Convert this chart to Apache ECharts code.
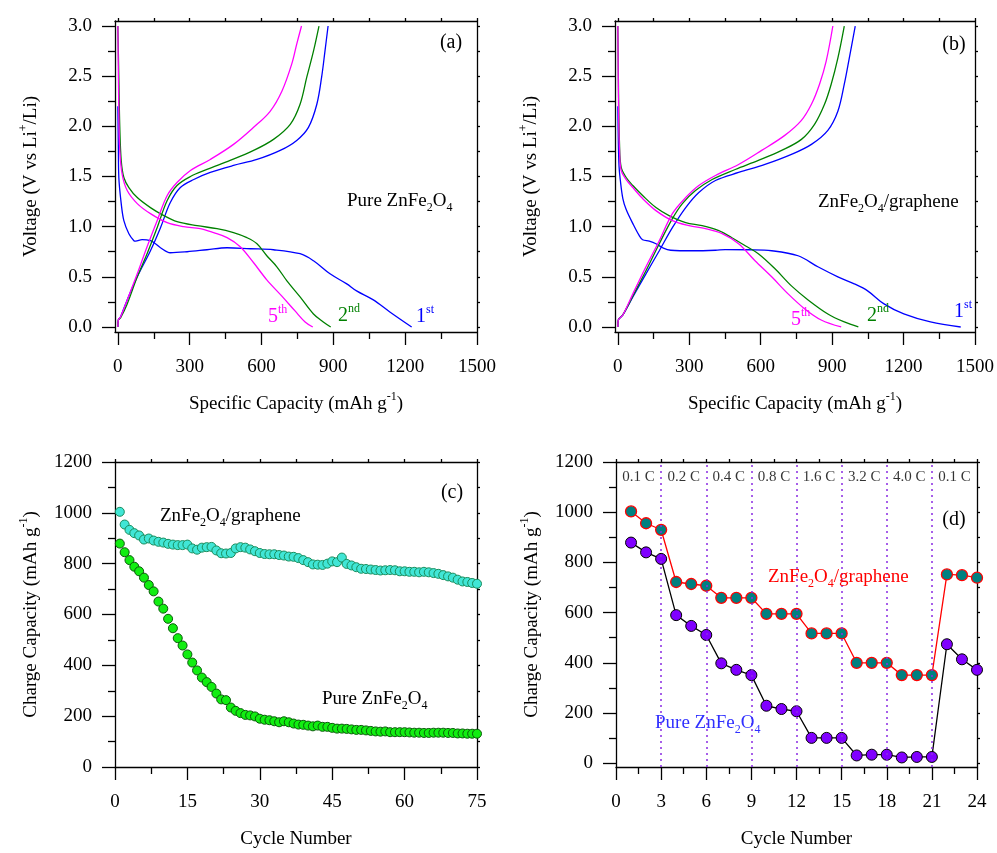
<!DOCTYPE html>
<html><head><meta charset="utf-8">
<script src="https://cdn.jsdelivr.net/npm/echarts@6/dist/echarts.min.js"></script>
<style>html,body{margin:0;padding:0;background:#fff}#c{width:997px;height:853px}</style>
</head><body><div id="c"></div>
<script>
// ---------- Tick values ----------
const capTicks = [0, 300, 600, 900, 1200, 1500];
const capMinor = [150, 450, 750, 1050, 1350];
const voltTicks = [0, 0.5, 1.0, 1.5, 2.0, 2.5, 3.0];
const voltMinor = [0.25, 0.75, 1.25, 1.75, 2.25, 2.75];
const cycTicksC = [0, 15, 30, 45, 60, 75];
const cycMinorC = [7.5, 22.5, 37.5, 52.5, 67.5];
const chgTicks = [0, 200, 400, 600, 800, 1000, 1200];
const chgMinor = [100, 300, 500, 700, 900, 1100];
const cycTicksD = [0, 3, 6, 9, 12, 15, 18, 21, 24];
const cycMinorD = [1.5, 4.5, 7.5, 10.5, 13.5, 16.5, 19.5, 22.5];

// ---------- Panel (a): Pure ZnFe2O4, [capacity, voltage] ----------
const a1Dis = [[0,2.2],[2,1.8],[4,1.49],[14,1.23],[25,1.06],[46,0.93],[67,0.86],[74,0.855],[101,0.87],[136,0.86],[157,0.83],[178,0.79],[219,0.74],[289,0.75],[372,0.77],[456,0.79],[553,0.78],[650,0.77],[761,0.73],[817,0.66],[886,0.53],[956,0.43],[997,0.36],[1067,0.27],[1136,0.15],[1227,0.0]];
const a1Chg = [[0,0],[2,0.07],[11,0.1],[39,0.27],[81,0.5],[136,0.76],[178,0.99],[219,1.24],[261,1.39],[317,1.47],[386,1.54],[483,1.61],[581,1.67],[678,1.76],[747,1.86],[796,1.99],[831,2.22],[851,2.49],[865,2.75],[878,3.0]];
const a2Dis = [[0,3.0],[4,2.49],[8,1.99],[14,1.66],[25,1.49],[46,1.39],[81,1.29],[136,1.19],[192,1.11],[247,1.05],[331,1.01],[414,0.98],[483,0.94],[539,0.89],[581,0.83],[622,0.71],[664,0.6],[706,0.46],[761,0.3],[817,0.13],[858,0.05],[889,0.0]];
const a2Chg = [[0,0],[2,0.07],[11,0.09],[39,0.23],[81,0.5],[122,0.73],[164,0.99],[206,1.26],[247,1.41],[303,1.5],[372,1.57],[469,1.66],[567,1.76],[650,1.87],[720,2.02],[761,2.22],[789,2.49],[817,2.75],[840,3.0]];
const a5Dis = [[0,3.0],[4,2.15],[8,1.76],[18,1.52],[39,1.36],[81,1.23],[136,1.13],[206,1.04],[275,1.0],[344,0.98],[400,0.94],[456,0.89],[511,0.8],[567,0.64],[622,0.47],[684,0.31],[740,0.16],[782,0.05],[814,0.0]];
const a5Chg = [[0,0],[2,0.07],[11,0.1],[39,0.27],[81,0.53],[122,0.8],[164,1.06],[206,1.31],[247,1.44],[303,1.56],[386,1.67],[483,1.82],[567,1.99],[636,2.15],[685,2.35],[726,2.62],[747,2.82],[767,3.0]];

// ---------- Panel (b): ZnFe2O4/graphene ----------
const b1Dis = [[0,2.2],[2,1.85],[5,1.6],[10,1.47],[21,1.28],[35,1.17],[63,1.03],[90,0.91],[104,0.87],[132,0.855],[160,0.83],[188,0.79],[222,0.765],[313,0.76],[410,0.765],[451,0.772],[549,0.77],[646,0.76],[757,0.71],[840,0.6],[924,0.5],[993,0.43],[1049,0.36],[1118,0.23],[1201,0.13],[1313,0.05],[1440,0.0]];
const b1Chg = [[0,0],[2,0.07],[21,0.12],[63,0.3],[118,0.53],[174,0.76],[229,0.99],[285,1.19],[340,1.34],[410,1.46],[507,1.54],[618,1.62],[729,1.72],[813,1.82],[882,1.96],[924,2.15],[951,2.42],[972,2.68],[997,3.0]];
const b2Dis = [[0,3.0],[3,2.32],[7,1.82],[14,1.59],[35,1.49],[63,1.41],[104,1.31],[160,1.19],[215,1.11],[285,1.04],[354,1.01],[424,0.96],[479,0.89],[535,0.81],[590,0.73],[660,0.58],[729,0.41],[799,0.27],[882,0.13],[951,0.05],[1010,0.0]];
const b2Chg = [[0,0],[2,0.07],[21,0.12],[63,0.31],[118,0.56],[174,0.83],[229,1.08],[271,1.23],[326,1.36],[396,1.47],[493,1.57],[590,1.66],[688,1.76],[771,1.87],[826,2.02],[868,2.22],[896,2.42],[924,2.68],[951,3.0]];
const b5Dis = [[0,3.0],[3,2.15],[7,1.76],[14,1.56],[35,1.47],[63,1.39],[104,1.28],[160,1.16],[229,1.06],[299,1.01],[368,0.98],[438,0.93],[507,0.83],[576,0.66],[646,0.5],[715,0.33],[785,0.18],[854,0.07],[938,0.0]];
const b5Chg = [[0,0],[2,0.07],[21,0.12],[63,0.33],[118,0.6],[174,0.86],[229,1.13],[285,1.29],[340,1.41],[410,1.51],[507,1.62],[604,1.76],[701,1.91],[771,2.06],[813,2.22],[847,2.42],[875,2.65],[903,3.0]];

// ---------- Panel (c): charge capacity vs cycle (cycles 1..75) ----------
const cPure = [879,845,814,788,770,745,716,691,651,623,583,546,507,478,443,411,380,352,334,315,289,266,263,234,221,212,205,203,199,190,186,184,180,176,180,176,171,167,166,163,160,163,158,158,154,151,151,150,148,146,146,144,142,140,139,140,137,137,137,137,136,135,135,134,134,135,135,135,134,134,132,132,131,131,131];
const cGraphene = [1004,954,933,920,911,895,899,891,886,883,878,875,873,873,875,860,855,863,865,866,852,841,840,842,860,865,863,856,849,842,838,837,837,834,832,828,827,822,814,806,797,796,795,800,809,806,824,799,793,786,780,779,777,775,773,774,775,774,770,770,768,768,766,768,766,763,760,755,750,745,737,730,728,724,721];

// ---------- Panel (d): rate capability (cycles 1..24) ----------
const dGraphene = [1003,956,930,722,714,707,659,659,659,595,595,595,517,517,517,400,400,400,351,351,351,752,749,739];
const dPure = [879,840,814,590,547,511,398,372,351,229,216,207,101,101,101,31,34,34,23,25,25,474,414,372];
const rateDividers = [3, 6, 9, 12, 15, 18, 21];
const rateLabels = ['0.1 C', '0.2 C', '0.4 C', '0.8 C', '1.6 C', '3.2 C', '4.0 C', '0.1 C'];

// ---------- Build chart ----------
const FONT = 'Liberation Serif';
const xAxes = [], yAxes = [], grids = [];

function fmtVolt(v) { return Number(v).toFixed(1); }
function fmtInt(v) { return String(Math.round(v)); }

function nameStyle() {
  return { fontFamily: FONT, fontSize: 19, color: '#000', lineHeight: 26,
    rich: { sup: { fontFamily: FONT, fontSize: 12, color: '#000', verticalAlign: 'top', lineHeight: 12 } } };
}

function addPanel(grid, xs, ys) {
  const gi = grids.length;
  grids.push(grid);
  const line = { show: true, onZero: false, lineStyle: { color: '#000', width: 1.3 } };
  const tickStyle = { color: '#000', width: 1.3 };
  const xi = xAxes.length, yi = yAxes.length;
  xAxes.push({ gridIndex: gi, type: 'value', position: 'bottom', min: xs.min, max: xs.max,
    axisLine: line, splitLine: { show: false },
    axisTick: { show: true, customValues: xs.major, length: 13, lineStyle: tickStyle },
    axisLabel: { show: true, customValues: xs.major, margin: 26, color: '#000', fontFamily: FONT, fontSize: 19, formatter: xs.fmt },
    name: xs.name, nameLocation: 'middle', nameGap: 59, nameTextStyle: nameStyle() });
  xAxes.push({ gridIndex: gi, type: 'value', position: 'bottom', min: xs.min, max: xs.max,
    axisLine: { show: false, onZero: false }, splitLine: { show: false },
    axisTick: { show: true, customValues: xs.minor, length: 7, lineStyle: tickStyle },
    axisLabel: { show: false } });
  xAxes.push({ gridIndex: gi, type: 'value', position: 'top', min: xs.min, max: xs.max,
    axisLine: line, splitLine: { show: false },
    axisTick: { show: true, customValues: xs.major.concat(xs.minor), length: 3, lineStyle: tickStyle },
    axisLabel: { show: false } });
  yAxes.push({ gridIndex: gi, type: 'value', position: 'left', min: ys.min, max: ys.max,
    axisLine: line, splitLine: { show: false },
    axisTick: { show: true, customValues: ys.major, length: 13, lineStyle: tickStyle },
    axisLabel: { show: true, customValues: ys.major, margin: 23, color: '#000', fontFamily: FONT, fontSize: 19, formatter: ys.fmt },
    name: ys.name, nameLocation: 'middle', nameGap: 71, nameRotate: 90, nameTextStyle: nameStyle() });
  yAxes.push({ gridIndex: gi, type: 'value', position: 'left', min: ys.min, max: ys.max,
    axisLine: { show: false, onZero: false }, splitLine: { show: false },
    axisTick: { show: true, customValues: ys.minor, length: 7, lineStyle: tickStyle },
    axisLabel: { show: false } });
  yAxes.push({ gridIndex: gi, type: 'value', position: 'right', min: ys.min, max: ys.max,
    axisLine: line, splitLine: { show: false },
    axisTick: { show: true, customValues: ys.major.concat(ys.minor), length: 3, lineStyle: tickStyle },
    axisLabel: { show: false } });
  return { x: xi, y: yi };
}

const capName = 'Specific Capacity (mAh g{sup|-1})';
const voltName = 'Voltage (V vs Li{sup|+}/Li)';
const chgName = 'Charge Capacity (mAh g{sup|-1})';

const pA = addPanel({ left: 115, top: 21, width: 362, height: 311 },
  { min: -12, max: 1500, major: capTicks, minor: capMinor, fmt: fmtInt, name: capName },
  { min: -0.05, max: 3.05, major: voltTicks, minor: voltMinor, fmt: fmtVolt, name: voltName });
const pB = addPanel({ left: 615, top: 21, width: 362, height: 311 },
  { min: -12, max: 1500, major: capTicks, minor: capMinor, fmt: fmtInt, name: capName },
  { min: -0.05, max: 3.05, major: voltTicks, minor: voltMinor, fmt: fmtVolt, name: voltName });
const pC = addPanel({ left: 115, top: 462, width: 362, height: 311 },
  { min: 0, max: 75, major: cycTicksC, minor: cycMinorC, fmt: fmtInt, name: 'Cycle Number' },
  { min: 0, max: 1200, major: chgTicks, minor: chgMinor, fmt: fmtInt, name: chgName });
const pD = addPanel({ left: 616, top: 462, width: 361, height: 311 },
  { min: 0, max: 24, major: cycTicksD, minor: cycMinorD, fmt: fmtInt, name: 'Cycle Number' },
  { min: -15, max: 1200, major: chgTicks, minor: chgMinor, fmt: fmtInt, name: chgName });

const series = [];
function curve(p, data, color) {
  series.push({ type: 'line', xAxisIndex: p.x, yAxisIndex: p.y, data: data, showSymbol: false,
    smooth: 0.35, lineStyle: { color: color, width: 1.3 }, silent: true, z: 3 });
}
const BLUE = '#0000ff', GREEN = '#008000', MAG = '#ff00ff';
curve(pA, a1Dis, BLUE); curve(pA, a1Chg, BLUE);
curve(pA, a2Dis, GREEN); curve(pA, a2Chg, GREEN);
curve(pA, a5Dis, MAG); curve(pA, a5Chg, MAG);
curve(pB, b1Dis, BLUE); curve(pB, b1Chg, BLUE);
curve(pB, b2Dis, GREEN); curve(pB, b2Chg, GREEN);
curve(pB, b5Dis, MAG); curve(pB, b5Chg, MAG);

// panel c
series.push({ type: 'scatter', xAxisIndex: pC.x, yAxisIndex: pC.y, symbol: 'circle', symbolSize: 9,
  data: cGraphene.map((v, i) => [i + 1, v]),
  itemStyle: { color: '#40e6d6', borderColor: '#1a8c5c', borderWidth: 1, opacity: 1 }, z: 3 });
series.push({ type: 'scatter', xAxisIndex: pC.x, yAxisIndex: pC.y, symbol: 'circle', symbolSize: 9,
  data: cPure.map((v, i) => [i + 1, v]),
  itemStyle: { color: '#11ee11', borderColor: '#0a5a0a', borderWidth: 1, opacity: 1 }, z: 3 });

// panel d dividers
series.push({ type: 'scatter', xAxisIndex: pD.x, yAxisIndex: pD.y, data: [], z: 1,
  markLine: { silent: true, symbol: ['none', 'none'], label: { show: false },
    lineStyle: { color: '#8a2be2', type: [2, 4], width: 1.5 },
    data: rateDividers.map(v => ({ xAxis: v })) } });
const segBounds = [0].concat(rateDividers, [24]);
series.push({ type: 'scatter', xAxisIndex: pD.x, yAxisIndex: pD.y, symbolSize: 0, silent: true, z: 4,
  data: rateLabels.map((t, i) => ({ name: t, value: [(segBounds[i] + segBounds[i + 1]) / 2, 1140] })),
  label: { show: true, position: 'inside', formatter: '{b}', color: '#000', fontFamily: FONT, fontSize: 15 } });
series.push({ type: 'line', xAxisIndex: pD.x, yAxisIndex: pD.y, symbol: 'circle', symbolSize: 11, showSymbol: true,
  data: dGraphene.map((v, i) => [i + 1, v]),
  lineStyle: { color: '#ff0000', width: 1.3 },
  itemStyle: { color: '#008080', borderColor: '#ff0000', borderWidth: 1.3 }, z: 3 });
series.push({ type: 'line', xAxisIndex: pD.x, yAxisIndex: pD.y, symbol: 'circle', symbolSize: 11, showSymbol: true,
  data: dPure.map((v, i) => [i + 1, v]),
  lineStyle: { color: '#000000', width: 1.3 },
  itemStyle: { color: '#8000ff', borderColor: '#000000', borderWidth: 1 }, z: 3 });

// ---------- Annotations ----------
function richFor(color, small) {
  return {
    sub: { fontFamily: FONT, fontSize: small, fill: color, verticalAlign: 'bottom', lineHeight: small },
    sup: { fontFamily: FONT, fontSize: small, fill: color, verticalAlign: 'top', lineHeight: small }
  };
}
function txt(x, y, text, color, size, small, align) {
  return { type: 'text', x: x, y: y, z: 100, silent: true,
    style: { text: text, fill: color, fontFamily: FONT, fontSize: size, font: size + 'px "' + FONT + '"',
      lineHeight: Math.round(size * 1.3),
      align: align || 'left', textAlign: align || 'left', verticalAlign: 'middle', textVerticalAlign: 'middle',
      rich: richFor(color, small) } };
}
const graphic = [
  txt(451, 43, '(a)', '#000', 20, 12, 'center'),
  txt(347, 201, 'Pure ZnFe{sub|2}O{sub|4}', '#000', 19, 12),
  txt(268, 317, '5{sup|th}', MAG, 20, 12),
  txt(338, 316, '2{sup|nd}', GREEN, 20, 12),
  txt(416, 317, '1{sup|st}', BLUE, 20, 12),
  txt(954, 45, '(b)', '#000', 20, 12, 'center'),
  txt(818, 202, 'ZnFe{sub|2}O{sub|4}/graphene', '#000', 19, 12),
  txt(791, 320, '5{sup|th}', MAG, 20, 12),
  txt(867, 316, '2{sup|nd}', GREEN, 20, 12),
  txt(954, 312, '1{sup|st}', BLUE, 20, 12),
  txt(452, 493, '(c)', '#000', 20, 12, 'center'),
  txt(160, 516, 'ZnFe{sub|2}O{sub|4}/graphene', '#000', 19, 12),
  txt(322, 699, 'Pure ZnFe{sub|2}O{sub|4}', '#000', 19, 12),
  txt(954, 520, '(d)', '#000', 20, 12, 'center'),
  txt(768, 577, 'ZnFe{sub|2}O{sub|4}/graphene', '#ff0000', 19, 12),
  txt(655, 723, 'Pure ZnFe{sub|2}O{sub|4}', '#3030ff', 19, 12)
];

const chart = echarts.init(document.getElementById('c'), null, { renderer: 'canvas' });
chart.setOption({
  animation: false,
  backgroundColor: '#ffffff',
  grid: grids,
  xAxis: xAxes,
  yAxis: yAxes,
  series: series,
  graphic: graphic
});
</script></body></html>
